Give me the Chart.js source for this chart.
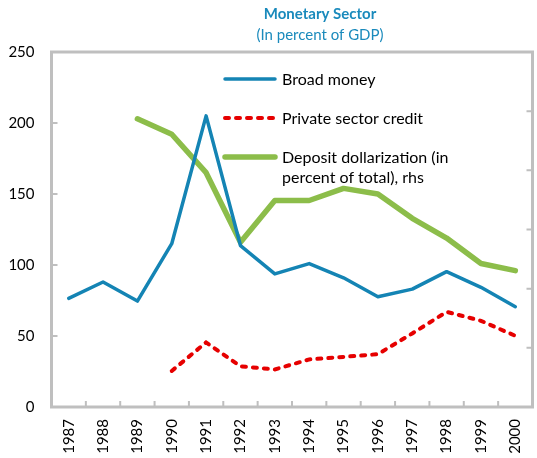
<!DOCTYPE html>
<html>
<head>
<meta charset="utf-8">
<script src="https://cdn.jsdelivr.net/npm/chart.js@4.4.1/dist/chart.umd.min.js"></script>
<style>
  html, body { margin:0; padding:0; background:#fff; }
  #wrap { width:537px; height:458px; }
</style>
</head>
<body>
<div id="wrap"><canvas id="monetaryChart" width="537" height="458"></canvas></div>
<script>
const years = ['1987','1988','1989','1990','1991','1992','1993','1994','1995','1996','1997','1998','1999','2000'];

// percent of GDP (lhs)
const broadMoney    = [76.5, 88, 74.6, 115, 205, 113.7, 93.7, 101, 91, 77.7, 83, 95.3, 84.3, 70.6];
const privateCredit = [null, null, null, 25.4, 45.5, 28.7, 26.4, 33.5, 35.3, 37.2, 51.8, 67, 60.7, 50.1];

// percent of total deposits (rhs, axis 0-120 without labels)
const dollarization = [null, null, 97.4, 92.2, 79.2, 55.7, 69.8, 69.8, 73.9, 72, 63.8, 57.1, 48.5, 46.1];

const leftTicks = { min:0, max:250, step:50 };
const rightTicks = { min:0, max:120, step:20 };

const axisGrey = '#bfbfbf';
const titleBlue = '#1a8abc';
const FONT = 'Lato, "Open Sans", sans-serif';

// frame with inward tick marks, title block and in-plot legend
const framePlugin = {
  id:'frame',
  beforeDatasetsDraw(chart){
    const {ctx, chartArea:a, scales} = chart;
    ctx.save();
    ctx.strokeStyle = axisGrey;
    ctx.lineWidth = 3;
    ctx.strokeRect(a.left, a.top, a.right - a.left, a.bottom - a.top);
    ctx.lineWidth = 2;
    ctx.beginPath();
    scales.y.ticks.forEach(t => {
      const py = scales.y.getPixelForValue(t.value);
      ctx.moveTo(a.left, py); ctx.lineTo(a.left + 6, py);
    });
    scales.y1.ticks.forEach(t => {
      const py = scales.y1.getPixelForValue(t.value);
      ctx.moveTo(a.right, py); ctx.lineTo(a.right - 6, py);
    });
    for (let i = 0; i < years.length - 1; i++) {
      const px = (scales.x.getPixelForValue(i) + scales.x.getPixelForValue(i + 1)) / 2;
      ctx.moveTo(px, a.bottom); ctx.lineTo(px, a.bottom - 6);
    }
    ctx.stroke();
    ctx.restore();
  },
  afterDraw(chart){
    const {ctx} = chart;
    ctx.save();
    ctx.fillStyle = titleBlue;
    ctx.textAlign = 'center';
    ctx.textBaseline = 'middle';
    ctx.font = 'bold 15px ' + FONT;
    ctx.fillText('Monetary Sector', 320, 14);
    ctx.font = '15px ' + FONT;
    ctx.fillText('(In percent of GDP)', 320, 35);

    // legend
    const rows = [79, 118, 157];
    chart.data.datasets.forEach((ds, i) => {
      const y = rows[i];
      ctx.beginPath();
      ctx.strokeStyle = ds.borderColor;
      ctx.lineWidth = ds.borderWidth;
      ctx.lineCap = 'round';
      ctx.setLineDash(ds.borderDash || []);
      ctx.moveTo(225, y); ctx.lineTo(275, y);
      ctx.stroke();
      ctx.setLineDash([]);
      ctx.fillStyle = '#000';
      ctx.textAlign = 'left';
      ctx.font = '16px ' + FONT;
      const lines = Array.isArray(ds.label) ? ds.label : [ds.label];
      lines.forEach((s, k) => ctx.fillText(s, 282, y + 1 + k * 20));
    });
    ctx.restore();
  }
};

new Chart(document.getElementById('monetaryChart').getContext('2d'), {
  type:'line',
  data:{
    labels:years,
    datasets:[
      {label:'Broad money', data:broadMoney, borderColor:'#1484b4', borderWidth:3.5,
       yAxisID:'y', pointRadius:0, tension:0, borderCapStyle:'round', borderJoinStyle:'round'},
      {label:'Private sector credit', data:privateCredit, borderColor:'#e60000', borderWidth:4,
       borderDash:[4,7], yAxisID:'y', pointRadius:0, tension:0, borderCapStyle:'round'},
      {label:['Deposit dollarization (in','percent of total), rhs'], data:dollarization,
       borderColor:'#8cbd4a', borderWidth:5.5, yAxisID:'y1', pointRadius:0, tension:0,
       borderCapStyle:'round', borderJoinStyle:'round'}
    ]
  },
  options:{
    responsive:false,
    animation:false,
    layout:{padding:{top:52, right:4.5, left:0, bottom:0}},
    plugins:{legend:{display:false}, title:{display:false}, tooltip:{enabled:false}},
    scales:{
      x:{
        offset:true,
        grid:{display:false, drawTicks:false},
        border:{display:false},
        ticks:{minRotation:90, maxRotation:90, padding:12, color:'#000', font:{family:FONT, size:15}},
        afterFit(s){ s.height = 51; s.paddingLeft = 0; s.paddingRight = 0; }
      },
      y:{
        position:'left',
        min:leftTicks.min, max:leftTicks.max,
        grid:{drawOnChartArea:false, drawTicks:false},
        border:{display:false},
        ticks:{stepSize:leftTicks.step, padding:17, color:'#000', font:{family:FONT, size:15}},
        afterFit(s){ s.width = 51.5; s.paddingTop = 0; s.paddingBottom = 0; }
      },
      y1:{
        position:'right',
        display:false,
        min:rightTicks.min, max:rightTicks.max,
        ticks:{stepSize:rightTicks.step}
      }
    }
  },
  plugins:[framePlugin]
});
</script>
</body>
</html>
